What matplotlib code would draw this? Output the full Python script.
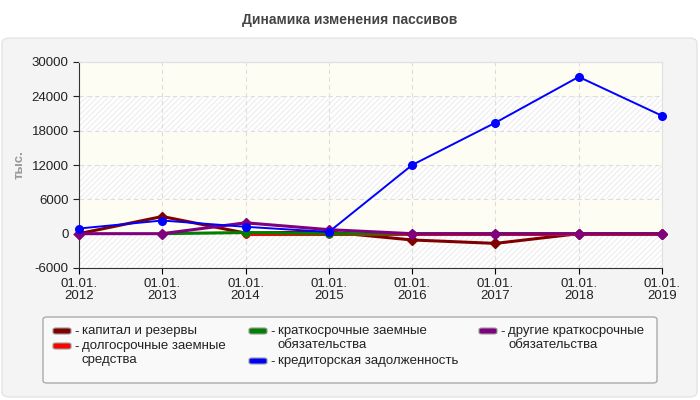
import matplotlib.pyplot as plt
from matplotlib.patches import FancyBboxPatch

plt.rcParams['font.family'] = ['Liberation Sans', 'DejaVu Sans']
plt.rcParams['axes.unicode_minus'] = False

years = ['01.01.\n2012', '01.01.\n2013', '01.01.\n2014', '01.01.\n2015',
         '01.01.\n2016', '01.01.\n2017', '01.01.\n2018', '01.01.\n2019']
capital = [0, 3000, 100, 300, -1100, -1700, 0, 0]
long_loans = [None, None, 0, 0, 0, 0, 0, 0]
short_loans = [None, 0, 200, 0, 0, 0, 0, 0]
payables = [900, 2300, 1200, 300, 12000, 19400, 27400, 20600]
other_short = [0, 0, 1900, 700, 0, 0, 0, 0]

labels = ['капитал и резервы', 'долгосрочные заемные\nсредства',
          'краткосрочные заемные\nобязательства', 'кредиторская задолженность',
          'другие краткосрочные\nобязательства']
colors = ['#800000', '#ff0000', '#008000', '#0000ff', '#800080']

W, H = 700, 400
fig = plt.figure(figsize=(7, 4), dpi=100)
fig.patch.set_facecolor('white')

def fx(px):
    return px / W

def fy(py):
    return 1 - py / H

# light panel behind the chart
panel = FancyBboxPatch((fx(2), fy(397)), fx(695), 359 / H,
                       boxstyle='round,pad=0,rounding_size=0.012',
                       transform=fig.transFigure, facecolor='#f4f4f4', edgecolor='#e4e4e4',
                       lw=1, zorder=-10)
fig.patches.append(panel)
fig.text(0.5, fy(20), 'Динамика изменения пассивов', ha='center', va='center',
         fontsize=10, fontweight='bold', color='#444444')

ax = fig.add_axes([fx(79), fy(268), fx(662 - 79), (268 - 62) / H])
ax.set_facecolor('white')

yticks = list(range(-6000, 30001, 6000))
for i in range(len(yticks) - 1):
    lo, hi = yticks[i], yticks[i + 1]
    if i % 2 == 0:
        ax.axhspan(lo, hi, facecolor='white', edgecolor='#f0f0f0', hatch='//////',
                   lw=0, zorder=0)
    else:
        ax.axhspan(lo, hi, facecolor='#fdfdf4', lw=0, zorder=0)

x = list(range(len(years)))

def xs_ys(vals):
    pts = [(i, v) for i, v in enumerate(vals) if v is not None]
    return [p[0] for p in pts], [p[1] for p in pts]

series = [(capital, 'D', 2.2, 5), (long_loans, 'o', 2.2, 5), (short_loans, 'o', 2.2, 5),
          (other_short, 'D', 2.2, 5), (payables, 'o', 1.4, 5.5)]
order_colors = [colors[0], colors[1], colors[2], colors[4], colors[3]]
for (vals, mk, lw, ms), c in zip(series, order_colors):
    xx, yy = xs_ys(vals)
    ax.plot(xx, yy, color=c, lw=lw, marker=mk, ms=ms, zorder=3, clip_on=False)

ax.set_xlim(0, len(years) - 1)
ax.set_ylim(-6000, 30000)
ax.set_yticks(yticks)
ax.set_xticks(x)
ax.set_xticklabels(years, fontsize=9.5, color='#222222', linespacing=1.0)
ax.tick_params(axis='y', labelsize=9.5, colors='#222222', length=4)
ax.tick_params(axis='x', length=4)
ax.grid(True, color='#dddddd', linestyle=(0, (4, 3)), lw=0.8)
ax.set_axisbelow(True)
for s in ['top', 'right']:
    ax.spines[s].set_color('#e0e0e0')
for s in ['left', 'bottom']:
    ax.spines[s].set_color('#333333')
ax.set_ylabel('тыс.', fontsize=9.5, fontweight='bold', color='#999999', labelpad=4)

# legend drawn by hand to mirror the layout
box = FancyBboxPatch((fx(43), fy(383)), fx(657 - 43), (383 - 317) / H,
                     boxstyle='round,pad=0,rounding_size=0.006',
                     transform=fig.transFigure, facecolor='#f9f9f9', edgecolor='#aaaaaa',
                     lw=1, zorder=1)
fig.patches.append(box)
col_x = [53, 249, 479]
rows = [331, 346, 361]
slots = [(0, 0), (0, 1), (1, 0), (1, 2), (2, 0)]
for (col, row), lab, c in zip(slots, labels, colors):
    hx, hy = col_x[col], rows[row]
    h = FancyBboxPatch((fx(hx), fy(hy + 3)), fx(18), 6 / H,
                       boxstyle='round,pad=0,rounding_size=0.004',
                       transform=fig.transFigure, facecolor=c, edgecolor='#999999',
                       lw=0.8, zorder=2)
    fig.patches.append(h)
    fig.text(fx(hx + 21), fy(hy + 1), '-', ha='left', va='center', fontsize=9.5, color='#222222')
    fig.text(fx(hx + 29), fy(hy - 6), lab, ha='left', va='top', fontsize=9.5,
             color='#222222', linespacing=1.25)

fig.savefig('out.png', dpi=100)
